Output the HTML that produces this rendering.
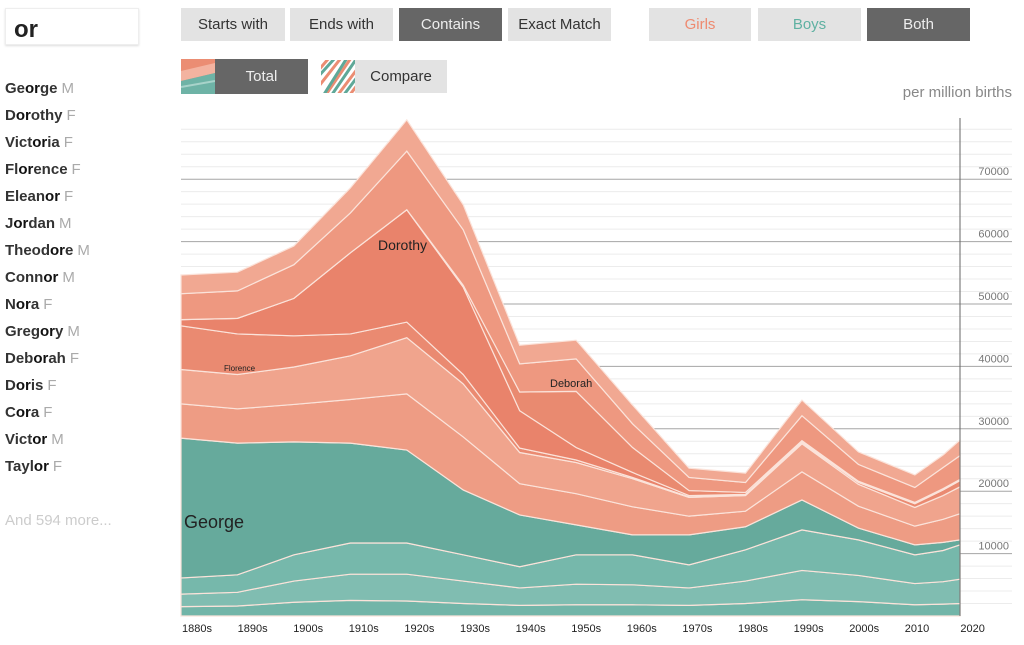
<!DOCTYPE html>
<html><head><meta charset="utf-8"><style>
body{margin:0;width:1024px;height:645px;background:#fff;font-family:"Liberation Sans",sans-serif;position:relative;overflow:hidden}
.btn{position:absolute;height:33px;line-height:33px;text-align:center;font-size:15px;background:#e3e3e3;color:#333}
.dark{background:#666;color:#eee}
#list{position:absolute;left:5px;top:79px;font-size:15px;font-weight:bold;color:#333}
#list div{height:27px;line-height:20px}
#list b{color:#111}
#list span{color:#aaa;font-weight:normal;margin-left:4px}
</style></head><body>
<div style="position:absolute;left:5px;top:8px;width:134px;height:37px;border:1px solid #eee;box-shadow:0 1px 2px #ddd;font-size:24px;font-weight:bold;line-height:42px;padding-left:8px;box-sizing:border-box;color:#222">or</div>
<div class="btn" style="left:181px;top:8px;width:104px">Starts with</div>
<div class="btn" style="left:290px;top:8px;width:103px">Ends with</div>
<div class="btn dark" style="left:399px;top:8px;width:103px">Contains</div>
<div class="btn" style="left:508px;top:8px;width:103px">Exact Match</div>
<div class="btn" style="left:649px;top:8px;width:102px;color:#ee8a70">Girls</div>
<div class="btn" style="left:758px;top:8px;width:103px;color:#5fb1a2">Boys</div>
<div class="btn dark" style="left:867px;top:8px;width:103px">Both</div>
<div class="btn dark" style="left:181px;top:59px;width:127px;height:35px;line-height:35px"><svg style="position:absolute;left:0;top:0" width="34" height="35"><rect width="34" height="35" fill="#eb8d73"/><path d="M0 12 L34 4 L34 14 L0 22Z" fill="#f3b3a0"/><path d="M0 22 L34 14 L34 35 L0 35Z" fill="#6eb3a6"/><path d="M0 28 L34 22" stroke="#a8d3ca" stroke-width="2"/></svg><span style="margin-left:34px">Total</span></div>
<div class="btn" style="left:321px;top:60px;width:126px"><svg style="position:absolute;left:0;top:0" width="34" height="33"><rect width="34" height="33" fill="#fff"/><g stroke-width="3"><path d="M-4 12 L8 -2 M-2 26 L20 -2 M4 36 L30 -2 M16 36 L40 4 M28 36 L40 20" stroke="#eb8d73"/><path d="M-4 18 L14 -2 M2 36 L26 -2 M10 36 L36 -2 M22 36 L40 12" stroke="#5fa898"/></g></svg><span style="margin-left:34px">Compare</span></div>
<div id="list">
<div>Ge<b>or</b>ge<span>M</span></div>
<div>D<b>or</b>othy<span>F</span></div>
<div>Vict<b>or</b>ia<span>F</span></div>
<div>Fl<b>or</b>ence<span>F</span></div>
<div>Elean<b>or</b><span>F</span></div>
<div>J<b>or</b>dan<span>M</span></div>
<div>Theod<b>or</b>e<span>M</span></div>
<div>Conn<b>or</b><span>M</span></div>
<div>N<b>or</b>a<span>F</span></div>
<div>Greg<b>or</b>y<span>M</span></div>
<div>Deb<b>or</b>ah<span>F</span></div>
<div>D<b>or</b>is<span>F</span></div>
<div>C<b>or</b>a<span>F</span></div>
<div>Vict<b>or</b><span>M</span></div>
<div>Tayl<b>or</b><span>F</span></div>
<div style="margin-top:27px;color:#ccc;font-weight:normal">And 594 more...</div>
</div>
<div style="position:absolute;right:12px;top:84px;font-size:15px;color:#888">per million births</div>
<svg id="chart" width="1024" height="645" style="position:absolute;left:0;top:0"></svg>
<script>
const years=[1880,1890,1900,1910,1920,1930,1940,1950,1960,1970,1980,1990,2000,2010,2015,2018];
const boysLow1=[1500,1600,2200,2500,2400,2000,1700,1800,1800,1700,2000,2600,2300,1800,1900,2000];
const boysLow2=[2000,2200,3400,4200,4300,3600,2800,3300,3200,2800,3600,4700,4200,3400,3600,3900];
const boysLow3=[2600,2800,4200,5000,5000,4200,3400,4700,4800,3700,5000,6500,5700,4600,5000,5500];
const george=[22400,21100,18100,16000,14900,10400,8300,4800,3200,4800,3700,4800,1900,1600,1300,800];
const girlsLow=[5500,5500,6000,7000,9000,8500,5000,5000,4500,3000,2500,4500,3500,3000,3700,4200];
const girlsLow2=[5500,5500,6000,7000,9000,8500,5000,5000,4500,3000,2500,4500,3500,3000,3800,4300];
const florence=[7000,6500,5000,3500,2500,1500,700,400,200,100,100,200,300,600,900,1000];
const dorothy=[1000,2500,6000,13000,18000,14000,6000,2000,800,200,100,100,100,100,100,100];
const deborah=[0,0,0,0,0,300,3000,9000,4000,800,300,200,100,100,100,100];
const girlsTop=[4150,4400,5400,6400,9400,8900,4500,5200,3800,2100,1600,4000,2700,2400,3400,3800];
const girlsTop2=[3000,3000,3000,4000,5000,4000,3000,3000,3000,1500,1500,2500,2000,2000,2000,2500];
const yTicks=[10000,20000,30000,40000,50000,60000,70000];
const xLabels=["1880s","1890s","1900s","1910s","1920s","1930s","1940s","1950s","1960s","1970s","1980s","1990s","2000s","2010","2020"];
const xLabelYears=[1880,1890,1900,1910,1920,1930,1940,1950,1960,1970,1980,1990,2000,2010,2020];
const X=y=>181+(y-1880)*5.645;
const XL=y=>182+(y-1880)*5.56;
const Y=v=>616-v*0.00624;
const NS="http://www.w3.org/2000/svg";
const svg=document.getElementById('chart');
function mk(t,a){const e=document.createElementNS(NS,t);for(const k in a)e.setAttribute(k,a[k]);svg.appendChild(e);return e;}
for(let v=2000;v<=78000;v+=2000){const l=mk('line',{x1:181,x2:1012,y1:Y(v),y2:Y(v),stroke:v%10000?'#ececec':'#a5a5a5','stroke-width':1});

}
const series=[[boysLow1,'#72b5a8','boys-band-1'],[boysLow2,'#80bdb1','boys-band-2'],[boysLow3,'#76b8ab','boys-band-3'],[george,'#66aa9c','george-area'],[girlsLow,'#ee9c84','girls-band-low'],[girlsLow2,'#f0a48d','girls-band-low-2'],[florence,'#ea8a71','florence-area'],[dorothy,'#e9836b','dorothy-area'],[deborah,'#e98a70','deborah-area'],[girlsTop,'#ee9880','girls-band-top'],[girlsTop2,'#f1a892','girls-band-top-2']];
let base=years.map(()=>0);
series.forEach(([vals,col,name])=>{
 const top=base.map((b,i)=>b+vals[i]);
 let d='M'+years.map((y,i)=>X(y)+','+Y(top[i])).join('L');
 for(let i=years.length-1;i>=0;i--)d+='L'+X(years[i])+','+Y(base[i]);
 const p=mk('path',{d:d+'Z',fill:col,stroke:'#fbe3da','stroke-width':1.2});
 
 
 base=top;
});
const ax=mk('line',{x1:960,x2:960,y1:118,y2:616,stroke:'#666'});


yTicks.forEach(v=>{const t=mk('text',{x:1009,y:Y(v)-4,'text-anchor':'end','font-size':11,fill:'#777'});t.textContent=v;

});
xLabels.forEach((s,i)=>{const t=mk('text',{x:XL(xLabelYears[i]),y:632,'font-size':11,fill:'#222'});t.textContent=s;

});
[['George',184,528,18,'george-label'],['Dorothy',378,250,14,'dorothy-label'],['Deborah',550,387,11,'deborah-label'],['Florence',224,371,8,'florence-label']].forEach(([s,x,y,f,n])=>{const t=mk('text',{x:x,y:y,'font-size':f,fill:'#222'});t.textContent=s;

});
</script>
</body></html>
